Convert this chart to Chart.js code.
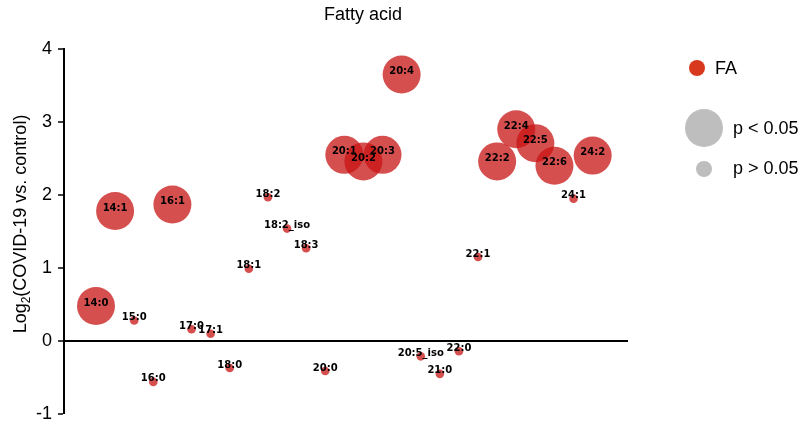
<!DOCTYPE html>
<html>
<head>
<meta charset="utf-8">
<script src="https://cdn.jsdelivr.net/npm/chart.js@4/dist/chart.umd.min.js"></script>
<style>
html,body{margin:0;padding:0;background:#fff;}
#wrap{width:803px;height:426px;position:relative;}
</style>
</head>
<body>
<div id="wrap"><canvas id="c" width="803" height="426"></canvas></div>
<script>
// ---- data ----
const lipidNames = ['14:0','14:1','15:0','16:0','16:1','17:0','17:1','18:0','18:1','18:2','18:2_iso','18:3','20:0','20:1','20:2','20:3','20:4','20:5_iso','21:0','22:0','22:1','22:2','22:4','22:5','22:6','24:1','24:2'];
const log2FoldChange = [0.48,1.78,0.28,-0.56,1.87,0.16,0.10,-0.37,0.99,1.97,1.54,1.27,-0.41,2.55,2.46,2.55,3.65,-0.21,-0.45,-0.14,1.15,2.46,2.90,2.71,2.40,1.95,2.54];
const significant = [1,1,0,0,1,0,0,0,0,0,0,0,0,1,1,1,1,0,0,0,0,1,1,1,1,0,1];
const yTicks = [-1,0,1,2,3,4];
const chartTitle = 'Fatty acid';
const classLabel = 'FA';
const sigLabels = ['p < 0.05','p > 0.05'];

// ---- styles ----
const R_BIG = 19, R_SMALL = 4.3;
const FONT = '"Liberation Sans", Arial, sans-serif';

const points = lipidNames.map((n,i)=>({x:i, y:log2FoldChange[i], r: significant[i] ? R_BIG : R_SMALL, name:n}));

const labelPlugin = {
  id:'labels',
  afterDatasetsDraw(chart){
    const ctx = chart.ctx;
    const meta = chart.getDatasetMeta(0);
    ctx.save();
    ctx.font = 'bold 10px "DejaVu Sans", sans-serif';
    ctx.fillStyle = '#000';
    ctx.textAlign = 'center';
    ctx.textBaseline = 'middle';
    meta.data.forEach((el,i)=>{
      ctx.fillText(lipidNames[i], el.x, el.y - 3);
    });
    ctx.restore();
  }
};

const decorPlugin = {
  id:'decor',
  afterDraw(chart){
    const ctx = chart.ctx;
    ctx.save();
    // title
    ctx.fillStyle = '#000';
    ctx.font = '18px ' + FONT;
    ctx.textAlign = 'center';
    ctx.textBaseline = 'middle';
    ctx.fillText(chartTitle, 363, 15);
    // y axis title with subscript
    ctx.translate(20, 224);
    ctx.rotate(-Math.PI/2);
    const main = '18px ' + FONT, sub = '12px ' + FONT;
    ctx.font = main; const w1 = ctx.measureText('Log').width;
    ctx.font = sub; const w2 = ctx.measureText('2').width;
    ctx.font = main; const w3 = ctx.measureText('(COVID-19 vs. control)').width;
    let x0 = -(w1+w2+w3)/2;
    ctx.textAlign = 'left';
    ctx.textBaseline = 'alphabetic';
    ctx.font = main; ctx.fillText('Log', x0, 6);
    ctx.font = sub; ctx.fillText('2', x0+w1, 10);
    ctx.font = main; ctx.fillText('(COVID-19 vs. control)', x0+w1+w2, 6);
    ctx.setTransform(1,0,0,1,0,0);
    // legend
    ctx.fillStyle = '#d7381e';
    ctx.beginPath(); ctx.arc(697, 68, 8, 0, Math.PI*2); ctx.fill();
    ctx.fillStyle = '#bebebe';
    ctx.beginPath(); ctx.arc(704, 128, 19, 0, Math.PI*2); ctx.fill();
    ctx.beginPath(); ctx.arc(704, 169, 8, 0, Math.PI*2); ctx.fill();
    ctx.fillStyle = '#000';
    ctx.font = '18px ' + FONT;
    ctx.textAlign = 'left';
    ctx.textBaseline = 'middle';
    ctx.fillText(classLabel, 715, 69);
    ctx.fillText(sigLabels[0], 733, 129);
    ctx.fillText(sigLabels[1], 733, 169);
    ctx.restore();
  }
};

new Chart(document.getElementById('c'), {
  type:'bubble',
  data:{
    datasets:[{
      label: classLabel,
      data: points,
      backgroundColor:'rgba(200,20,20,0.75)',
      borderWidth:0,
      clip:false
    }]
  },
  options:{
    responsive:false,
    animation:false,
    events:[],
    layout:{autoPadding:false, padding:{left:0, right:175, top:49, bottom:12}},
    plugins:{legend:{display:false}, tooltip:{enabled:false}, title:{display:false}},
    scales:{
      x:{type:'linear', display:false, min:-1.675, max:27.85},
      y:{
        type:'linear', min:-1, max:4,
        afterBuildTicks(scale){ scale.ticks = yTicks.map(v=>({value:v})); },
        afterFit(scale){ scale.width = 64; scale.paddingTop = 0; scale.paddingBottom = 0; },
        ticks:{color:'#000', font:{size:18, family:FONT}, padding:6},
        grid:{
          drawTicks:true, tickLength:6, tickColor:'#000', tickWidth:1.5,
          color:(c)=> c.tick && c.tick.value===0 ? '#000' : 'rgba(0,0,0,0)',
          lineWidth:(c)=> c.tick && c.tick.value===0 ? 2 : 0
        },
        border:{display:true, color:'#000', width:2}
      }
    }
  },
  plugins:[labelPlugin, decorPlugin]
});
</script>
</body>
</html>
